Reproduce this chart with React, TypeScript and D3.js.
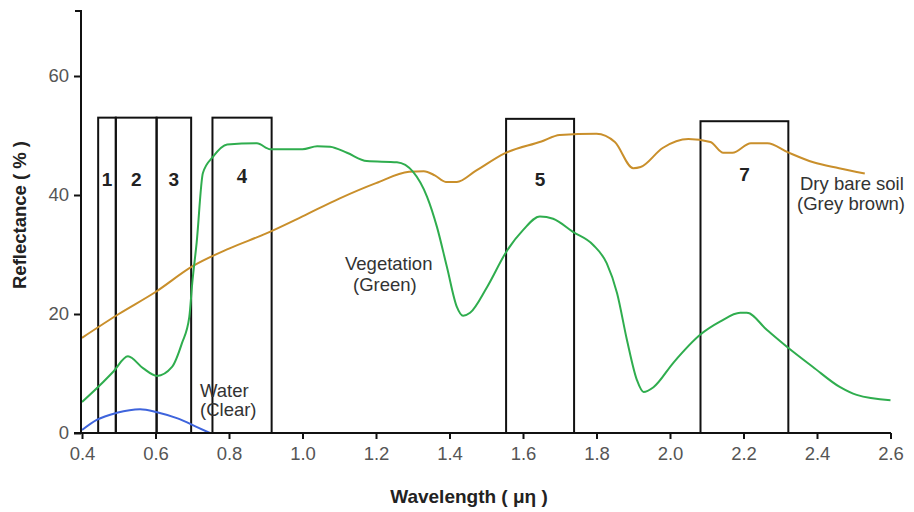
import React, { useEffect, useRef } from 'react';
import * as d3 from 'd3';

// wavelength (µm) / reflectance (%) pairs
const soil: [number, number][] = [
  [0.4, 16], [0.5, 20], [0.6, 23.7], [0.7, 28], [0.8, 31], [0.9, 33.5], [1.0, 36.4],
  [1.1, 39.4], [1.2, 42], [1.29, 43.9], [1.33, 44], [1.36, 43.3], [1.39, 42.2], [1.42, 42.2],
  [1.47, 44], [1.55, 47], [1.65, 49], [1.7, 50.1], [1.8, 50.3], [1.85, 48.9], [1.9, 44.5],
  [1.92, 44.7], [1.98, 47.9], [2.05, 49.4], [2.11, 48.9], [2.145, 47.1], [2.17, 47.1],
  [2.22, 48.7], [2.265, 48.7], [2.32, 47.2], [2.39, 45.5], [2.46, 44.5], [2.53, 43.6],
];

const vegetation: [number, number][] = [
  [0.4, 5.2], [0.45, 8.1], [0.485, 10.3], [0.525, 12.9], [0.566, 10.9],
  [0.604, 9.6], [0.645, 11.1], [0.672, 15.1], [0.692, 19.5], [0.7, 25.2], [0.712, 32],
  [0.729, 43.7], [0.756, 46.4], [0.795, 48.5], [0.876, 48.7], [0.912, 47.7], [1.0, 47.7],
  [1.04, 48.2], [1.075, 48.1], [1.121, 47.1], [1.175, 45.7], [1.257, 45.5], [1.301, 43.9],
  [1.339, 39.7], [1.366, 34.6], [1.393, 27.9], [1.42, 21.2], [1.437, 19.7], [1.456, 20.2],
  [1.502, 24.5], [1.556, 30.6], [1.6, 34.1], [1.646, 36.4], [1.682, 36], [1.736, 33.8],
  [1.791, 31.6], [1.828, 28.5], [1.856, 23.5], [1.883, 15.6], [1.91, 8.9], [1.928, 6.9],
  [1.955, 7.7], [2.009, 11.8], [2.082, 16.5], [2.136, 18.7], [2.191, 20.2], [2.209, 20.2],
  [2.264, 17.3], [2.318, 14.5], [2.389, 11.1], [2.463, 7.7], [2.508, 6.4], [2.6, 5.5],
];

const water: [number, number][] = [
  [0.4, 0.5], [0.44, 2.2], [0.495, 3.4], [0.558, 4.0], [0.604, 3.5], [0.658, 2.5],
  [0.713, 1.0], [0.748, 0],
];

const bandNames = ['1', '2', '3', '4', '5', '7'];
const bandStart = [0.444, 0.492, 0.603, 0.755, 1.554, 2.083];
const bandEnd = [0.492, 0.603, 0.697, 0.916, 1.739, 2.322];
const bandTop = [53, 53, 53, 53, 52.8, 52.4];
const bandLabelY = [42.6, 42.6, 42.6, 43.2, 42.6, 43.4];

const xTicks = [0.4, 0.6, 0.8, 1.0, 1.2, 1.4, 1.6, 1.8, 2.0, 2.2, 2.4, 2.6];
const yTicks = [0, 20, 40, 60];

const App = () => {
  const svgRef = useRef<SVGSVGElement>(null);

  useEffect(() => {
    const svg = d3.select(svgRef.current);
    svg.selectAll('*').remove();

    const x = d3.scaleLinear().domain([0.4, 2.6]).range([82, 890.5]);
    const y = d3.scaleLinear().domain([0, 60]).range([433, 76]);
    const font = 'Liberation Sans, Arial, sans-serif';

    // bands
    const bands = svg.append('g');
    bandNames.forEach((b, i) => {
      bands.append('rect')
        .attr('x', x(bandStart[i]))
        .attr('y', y(bandTop[i]))
        .attr('width', x(bandEnd[i]) - x(bandStart[i]))
        .attr('height', y(0) - y(bandTop[i]))
        .attr('fill', 'none')
        .attr('stroke', '#111')
        .attr('stroke-width', 2);
      bands.append('text')
        .attr('x', (x(bandStart[i]) + x(bandEnd[i])) / 2)
        .attr('y', y(bandLabelY[i]))
        .attr('text-anchor', 'middle')
        .attr('dominant-baseline', 'central')
        .attr('font-family', b === '4' ? 'Liberation Serif, serif' : font)
        .attr('font-weight', 'bold')
        .attr('font-size', b === '4' ? 21 : 19)
        .attr('fill', '#222')
        .text(b);
    });

    const line = d3.line<[number, number]>()
      .x(d => x(d[0]))
      .y(d => y(d[1]))
      .curve(d3.curveMonotoneX);

    svg.append('path').datum(soil).attr('d', line)
      .attr('fill', 'none').attr('stroke', '#c98f2b').attr('stroke-width', 2);
    svg.append('path').datum(vegetation).attr('d', line)
      .attr('fill', 'none').attr('stroke', '#2fad4e').attr('stroke-width', 2);
    svg.append('path').datum(water).attr('d', line)
      .attr('fill', 'none').attr('stroke', '#3e64dc').attr('stroke-width', 2);

    // axes
    const xAxis = svg.append('g')
      .attr('transform', `translate(0, ${y(0)})`)
      .call(d3.axisBottom(x).tickValues(xTicks).tickFormat(d3.format('.1f')).tickSize(6).tickSizeOuter(0));
    xAxis.select('.domain').remove();
    xAxis.append('line').attr('x1', 74).attr('x2', 891).attr('stroke', '#111').attr('stroke-width', 2);
    xAxis.selectAll('.tick line').attr('stroke', '#111').attr('stroke-width', 2);
    xAxis.selectAll('.tick text')
      .attr('font-family', font).attr('font-size', 18.5).attr('fill', '#555')
      .attr('y', 27).attr('dy', null);

    const yAxis = svg.append('g')
      .attr('transform', 'translate(81, 0)')
      .call(d3.axisLeft(y).tickValues(yTicks).tickSize(7).tickSizeOuter(0));
    yAxis.select('.domain').remove();
    yAxis.append('line').attr('y1', y(0)).attr('y2', 10).attr('stroke', '#111').attr('stroke-width', 2);
    yAxis.append('line').attr('x1', -6).attr('x2', 0).attr('y1', 11).attr('y2', 11).attr('stroke', '#111').attr('stroke-width', 2);
    yAxis.selectAll('.tick line').attr('stroke', '#111').attr('stroke-width', 2);
    yAxis.selectAll('.tick text')
      .attr('font-family', font).attr('font-size', 18.5).attr('fill', '#555').attr('x', -12);

    // titles
    svg.append('text')
      .attr('transform', 'translate(26, 215) rotate(-90)')
      .attr('text-anchor', 'middle')
      .attr('font-family', font).attr('font-weight', 'bold').attr('font-size', 18.5).attr('fill', '#222')
      .text('Reflectance ( % )');
    svg.append('text')
      .attr('x', 469).attr('y', 503)
      .attr('text-anchor', 'middle')
      .attr('font-family', font).attr('font-weight', 'bold').attr('font-size', 19).attr('fill', '#222')
      .text('Wavelength ( μη )');

    // annotations
    const notes: [string, number, number][] = [
      ['Dry bare soil', 800, 190],
      ['(Grey brown)', 797, 210],
      ['Vegetation', 345, 270],
      ['(Green)', 353, 291],
      ['Water', 200, 397],
      ['(Clear)', 200, 416],
    ];
    notes.forEach(([t, nx, ny]) => {
      svg.append('text')
        .attr('x', nx).attr('y', ny)
        .attr('font-family', font).attr('font-size', 18.5).attr('fill', '#333')
        .text(t);
    });
  }, []);

  return (
    <svg ref={svgRef} width={914} height={512}
      style={{ position: 'absolute', left: 0, top: 0, background: '#fff' }} />
  );
};

export default App;
